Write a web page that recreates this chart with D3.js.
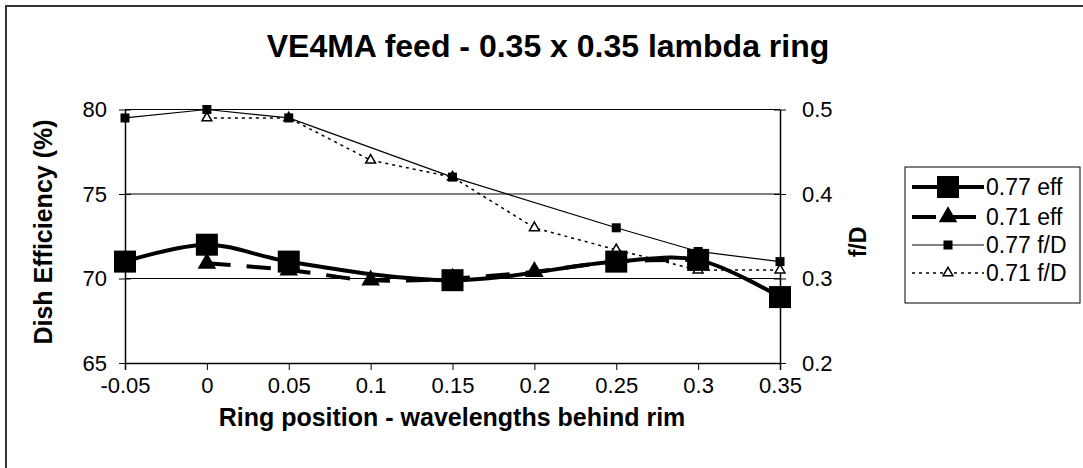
<!DOCTYPE html>
<html>
<head>
<meta charset="utf-8">
<script src="https://cdn.jsdelivr.net/npm/d3@7"></script>
<style>
  html, body { margin: 0; padding: 0; background: #fff; }
  svg { display: block; font-family: "Liberation Sans", Arial, sans-serif; }
</style>
</head>
<body>
<svg id="chart" width="1083" height="468"></svg>
<script>
// ---- data ----
const xTicks = [-0.05, 0, 0.05, 0.1, 0.15, 0.2, 0.25, 0.3, 0.35];
const xTickLabels = ["-0.05", "0", "0.05", "0.1", "0.15", "0.2", "0.25", "0.3", "0.35"];
const leftTicks = [65, 70, 75, 80];
const rightTicks = [0.2, 0.3, 0.4, 0.5];

const eff077X = [-0.05, 0, 0.05, 0.15, 0.25, 0.3, 0.35];
const eff077Y = [71.0, 72.0, 71.0, 69.9, 71.0, 71.1, 68.9];

const eff071X = [0, 0.05, 0.1, 0.15, 0.2, 0.25, 0.3];
const eff071Y = [70.9, 70.5, 69.9, 70.0, 70.4, 71.0, 71.1];

const fd077X = [-0.05, 0, 0.05, 0.15, 0.25, 0.3, 0.35];
const fd077Y = [0.49, 0.50, 0.49, 0.42, 0.36, 0.332, 0.32];

const fd071X = [0, 0.05, 0.1, 0.15, 0.2, 0.25, 0.3, 0.35];
const fd071Y = [0.49, 0.49, 0.44, 0.42, 0.36, 0.334, 0.31, 0.31];

const seriesNames = ["0.77 eff", "0.71 eff", "0.77 f/D", "0.71 f/D"];

// ---- drawing ----
const svg = d3.select("#chart");
const L = 125, R = 780, T = 109.5, B = 363;
const FF = "Liberation Sans, Arial, sans-serif";

const x = d3.scaleLinear().domain([-0.05, 0.35]).range([L, R]);
const yL = d3.scaleLinear().domain([65, 80]).range([B, T]);
const yR = d3.scaleLinear().domain([0.2, 0.5]).range([B, T]);

// outer border (left & top only visible)
svg.append("path")
  .attr("d", `M6,468 L6,6 L1083,6`)
  .attr("fill", "none").attr("stroke", "#333").attr("stroke-width", 2);

// title
svg.append("text").attr("x", 548).attr("y", 57)
  .attr("text-anchor", "middle").attr("font-weight", "bold").attr("font-size", 32)
  .text("VE4MA feed - 0.35 x 0.35 lambda ring");

// gridlines
svg.append("g").selectAll("line").data(leftTicks.filter(d => d > 65)).join("line")
  .attr("x1", L).attr("x2", R)
  .attr("y1", d => yL(d)).attr("y2", d => yL(d))
  .attr("stroke", "#000").attr("stroke-width", 1);

// left axis
const gl = svg.append("g").attr("transform", `translate(${L},0)`)
  .call(d3.axisLeft(yL).tickValues(leftTicks).tickSize(0).tickPadding(18).tickFormat(d3.format("d")));
gl.select(".domain").attr("stroke", "#000").attr("stroke-width", 1.5);
gl.selectAll("text").attr("font-size", 22).attr("font-family", FF).attr("fill", "#000");
gl.selectAll(".tick").append("line").attr("x1", -6).attr("x2", 6).attr("stroke", "#000");

// right axis
const gr = svg.append("g").attr("transform", `translate(${R},0)`)
  .call(d3.axisRight(yR).tickValues(rightTicks).tickSize(0).tickPadding(22).tickFormat(d3.format(".1f")));
gr.select(".domain").attr("stroke", "#000").attr("stroke-width", 1.5);
gr.selectAll("text").attr("font-size", 22).attr("font-family", FF).attr("fill", "#000");
gr.selectAll(".tick").append("line").attr("x1", -6).attr("x2", 6).attr("stroke", "#000");

// bottom axis
const gb = svg.append("g").attr("transform", `translate(0,${B})`)
  .call(d3.axisBottom(x).tickValues(xTicks).tickSize(7).tickPadding(7).tickFormat((d, i) => xTickLabels[i]));
gb.select(".domain").attr("stroke", "#000").attr("stroke-width", 1.5);
gb.selectAll("line").attr("stroke", "#000");
gb.selectAll("text").attr("font-size", 22).attr("font-family", FF).attr("fill", "#000");

// axis titles
svg.append("text").attr("transform", `translate(52,232) rotate(-90)`)
  .attr("text-anchor", "middle").attr("font-weight", "bold").attr("font-size", 25)
  .text("Dish Efficiency (%)");
svg.append("text").attr("transform", `translate(866,242) rotate(-90)`)
  .attr("text-anchor", "middle").attr("font-weight", "bold").attr("font-size", 23)
  .text("f/D");
svg.append("text").attr("x", 452).attr("y", 426)
  .attr("text-anchor", "middle").attr("font-weight", "bold").attr("font-size", 25)
  .text("Ring position - wavelengths behind rim");

// series
const plot = svg.append("g");
function zip(xs, ys) { return xs.map((v, i) => [v, ys[i]]); }

const lineL = d3.line().x(d => x(d[0])).y(d => yL(d[1])).curve(d3.curveCatmullRom.alpha(0.5));
const lineR = d3.line().x(d => x(d[0])).y(d => yR(d[1]));

const d071fd = zip(fd071X, fd071Y);
const d077fd = zip(fd077X, fd077Y);
const d071e = zip(eff071X, eff071Y);
const d077e = zip(eff077X, eff077Y);

// 0.71 f/D dotted
plot.append("path").attr("d", lineR(d071fd)).attr("fill", "none")
  .attr("stroke", "#000").attr("stroke-width", 1.5).attr("stroke-dasharray", "3,4");
// 0.77 f/D thin
plot.append("path").attr("d", lineR(d077fd)).attr("fill", "none")
  .attr("stroke", "#000").attr("stroke-width", 1.2);
// 0.71 eff dashed thick
plot.append("path").attr("d", lineL(d071e)).attr("fill", "none")
  .attr("stroke", "#000").attr("stroke-width", 4).attr("stroke-dasharray", "24,16");
// 0.77 eff thick solid
plot.append("path").attr("d", lineL(d077e)).attr("fill", "none")
  .attr("stroke", "#000").attr("stroke-width", 4);

const tri = (s) => d3.symbol().type(d3.symbolTriangle).size(s)();

// markers
plot.append("g").selectAll("path").data(d071fd).join("path")
  .attr("d", tri(42))
  .attr("transform", d => `translate(${x(d[0])},${yR(d[1])})`)
  .attr("fill", "#fff").attr("stroke", "#000").attr("stroke-width", 1.5);
plot.append("g").selectAll("rect").data(d077fd).join("rect")
  .attr("x", d => x(d[0]) - 4.5).attr("y", d => yR(d[1]) - 4.5)
  .attr("width", 9).attr("height", 9).attr("fill", "#000");
plot.append("g").selectAll("path").data(d071e).join("path")
  .attr("d", tri(150))
  .attr("transform", d => `translate(${x(d[0])},${yL(d[1])})`)
  .attr("fill", "#000");
plot.append("g").selectAll("rect").data(d077e).join("rect")
  .attr("x", d => x(d[0]) - 11).attr("y", d => yL(d[1]) - 11)
  .attr("width", 22).attr("height", 22).attr("fill", "#000");

// legend
const lg = svg.append("g");
lg.append("rect").attr("x", 905).attr("y", 167).attr("width", 175).attr("height", 136)
  .attr("fill", "#fff").attr("stroke", "#000").attr("stroke-width", 1);
const rowY = [187, 217, 245, 273];
const lx1 = 912, lx2 = 984, mx = 948;
seriesNames.forEach((name, i) => {
  const y = rowY[i];
  const ln = lg.append("line").attr("x1", lx1).attr("x2", lx2).attr("y1", y).attr("y2", y).attr("stroke", "#000");
  if (i === 0) ln.attr("stroke-width", 4);
  if (i === 1) ln.attr("stroke-width", 4).attr("stroke-dasharray", "24,16");
  if (i === 2) ln.attr("stroke-width", 1.2);
  if (i === 3) ln.attr("stroke-width", 1.5).attr("stroke-dasharray", "3,4");
  if (i === 0) lg.append("rect").attr("x", mx - 11).attr("y", y - 11).attr("width", 22).attr("height", 22).attr("fill", "#000");
  if (i === 1) lg.append("path").attr("d", tri(150)).attr("transform", `translate(${mx},${y})`).attr("fill", "#000");
  if (i === 2) lg.append("rect").attr("x", mx - 4.5).attr("y", y - 4.5).attr("width", 9).attr("height", 9).attr("fill", "#000");
  if (i === 3) lg.append("path").attr("d", tri(42)).attr("transform", `translate(${mx},${y})`).attr("fill", "#fff").attr("stroke", "#000").attr("stroke-width", 1.5);
  lg.append("text").attr("x", 986).attr("y", y + 8).attr("font-size", 23).text(name);
});
</script>
</body>
</html>
